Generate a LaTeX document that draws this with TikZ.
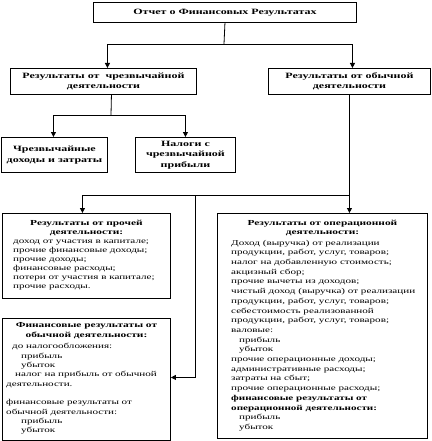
\documentclass[tikz,border=0pt]{standalone}
\usepackage{fontspec}
\setmainfont[FakeStretch=1.48]{Liberation Serif}
\usetikzlibrary{arrows.meta,calc}
\begin{document}
\begin{tikzpicture}[x=1pt,y=-1pt,
  box/.style={draw, line width=0.9pt, inner sep=0pt, anchor=north west, align=center},
  hdr/.style={font=\bfseries\fontsize{8.1}{10.5}\selectfont},
  bodytxt/.style={inner sep=0pt, anchor=north west, align=left, font=\fontsize{7.5}{9.1}\selectfont},
  titletxt/.style={inner sep=0pt, anchor=north, align=center, font=\bfseries\fontsize{7.7}{9.6}\selectfont},
  conn/.style={line width=0.8pt},
  arr/.style={conn, -{Triangle[length=5pt,width=5pt]}}]
\useasboundingbox (0,0) rectangle (431,441);
% boxes
\node[box, hdr, minimum width=263, minimum height=20] (top) at (93,2) {Отчет о Финансовых Результатах};
\node[box, hdr, minimum width=186, minimum height=26] (extr) at (10,68) {Результаты от \ чрезвычайной\\деятельности};
\node[box, hdr, minimum width=162, minimum height=26] (usual) at (268,68) {Результаты от обычной\\деятельности};
\node[box, hdr, minimum width=106, minimum height=35] (ed) at (1,137) {Чрезвычайные\\доходы и затраты};
\node[box, hdr, minimum width=100, minimum height=35] (tax) at (135,137) {Налоги с\\чрезвычайной\\прибыли};
\node[box, minimum width=168, minimum height=85] (other) at (2,213) {};
\node[box, minimum width=210, minimum height=225] (oper) at (217,213) {};
\node[box, minimum width=168, minimum height=122] (fin) at (2,318) {};
% texts in big boxes
\node[titletxt] (otherT) at ($(other.north)+(0,6.5)$) {Результаты от прочей\\деятельности:};
\node[bodytxt] (otherB) at (13,239.7) {доход от участия в капитале;\\прочие финансовые доходы;\\прочие доходы;\\финансовые расходы;\\потери от участия в капитале;\\прочие расходы.};
\node[titletxt] (operT) at ($(oper.north)+(0,6.5)$) {Результаты от операционной\\деятельности:};
\node[bodytxt, font=\fontsize{7.5}{9.7}\selectfont] (operB) at (231,239.7) {Доход (выручка) от реализации\\продукции, работ, услуг, товаров;\\налог на добавленную стоимость;\\акцизный сбор;\\прочие вычеты из доходов;\\чистый доход (выручка) от реализации\\продукции, работ, услуг, товаров;\\себестоимость реализованной\\продукции, работ, услуг, товаров;\\валовые:\\\hspace*{8pt}прибыль\\\hspace*{8pt}убыток\\прочие операционные доходы;\\административные расходы;\\затраты на сбыт;\\прочие операционные расходы;\\\textbf{финансовые результаты от}\\\textbf{операционной деятельности:}\\\hspace*{8pt}прибыль\\\hspace*{8pt}убыток};
\node[titletxt] (finT) at ($(fin.north)+(0,4.4)$) {Финансовые результаты от\\обычной деятельности:};
\node[bodytxt, font=\fontsize{7.5}{9.3}\selectfont] (finB) at (6,343.4) {\hspace*{6pt}до налогообложения:\\\hspace*{15pt}прибыль\\\hspace*{15pt}убыток\\\hspace*{9pt}налог на прибыль от обычной\\деятельности.\\[9.3pt]финансовые результаты от\\обычной деятельности:\\\hspace*{15pt}прибыль\\\hspace*{15pt}убыток};
% connectors
\coordinate (j1) at (224,44);
\coordinate (j2) at (111,115);
\coordinate (j3) at (349,195);
\coordinate (j4) at (195,195);
\draw[conn] (top.south) -- (j1);
\draw[arr] (j1) -| ([xshift=4pt]extr.north);
\draw[arr] (j1) -| ([xshift=3pt]usual.north);
\draw[conn] ([xshift=8pt]extr.south) -- (j2);
\draw[arr] (j2) -| ([xshift=-1pt]ed.north);
\draw[arr] (j2) -| (tax.north);
\draw[arr] (usual.south) -- (usual.south |- oper.north);
\draw[arr] (j3) -| ([xshift=-4pt]other.north);
\draw[arr] (j4) |- ([yshift=2pt]fin.east);
\end{tikzpicture}
\end{document}
